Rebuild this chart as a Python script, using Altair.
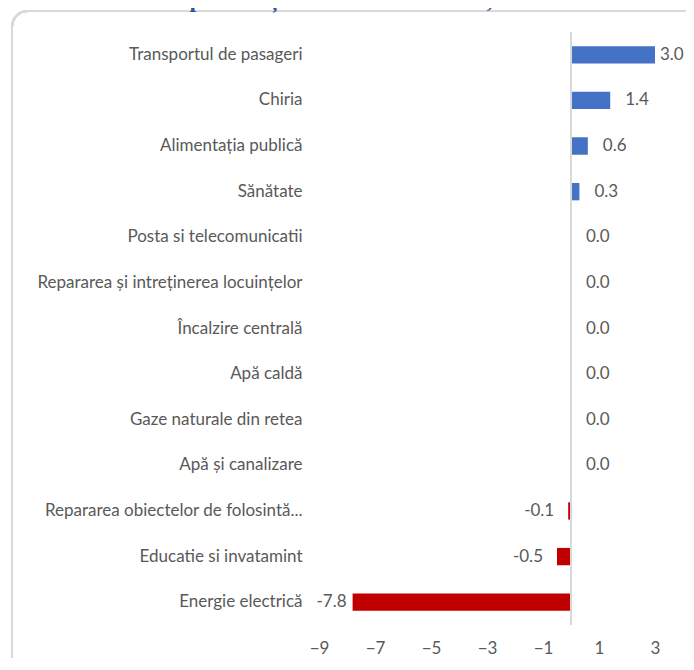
import altair as alt
import pandas as pd

categories = [
    "Transportul de pasageri",
    "Chiria",
    "Alimentația publică",
    "Sănătate",
    "Posta si telecomunicatii",
    "Repararea și intreținerea locuințelor",
    "Încalzire centrală",
    "Apă caldă",
    "Gaze naturale din retea",
    "Apă și canalizare",
    "Repararea obiectelor de folosintă...",
    "Educatie si invatamint",
    "Energie electrică",
]
values = [3.0, 1.4, 0.6, 0.3, 0.0, 0.0, 0.0, 0.0, 0.0, 0.0, -0.1, -0.5, -7.8]
x_ticks = [-9, -7, -5, -3, -1, 1, 3]
title_text = "aprilie față de decembrie 2020, %"

df = pd.DataFrame({"cat": categories, "val": values})
df["sign"] = ["neg" if v < 0 else "pos" for v in values]
df["lbl"] = [f"{v:.1f}" for v in values]

FONT = "Lato"
GRAY = "#595959"
FS = 17
W, H = 336, 593

x_scale = alt.Scale(domain=[-9, 3], nice=False, zero=False)
y_scale = alt.Scale(domain=categories, paddingInner=0.62, paddingOuter=0.31)

y_axis = alt.Axis(
    title=None, ticks=False, domain=False, grid=False, labelPadding=17,
    labelFont=FONT, labelFontSize=FS, labelColor=GRAY, labelLimit=300,
)
x_axis = alt.Axis(
    title=None, values=x_ticks, ticks=False, domain=False, grid=False,
    labelPadding=15, labelFont=FONT, labelFontSize=FS, labelColor=GRAY,
    labelFlush=False,
)
x_enc = alt.X("val:Q", scale=x_scale, axis=x_axis)
y_enc = alt.Y("cat:N", sort=categories, scale=y_scale, axis=y_axis)

base = alt.Chart(df)

frame = base.mark_rect(
    fill=None, stroke="#D9D9D9", strokeWidth=2, cornerRadius=16
).encode(
    x=alt.value(-307), x2=alt.value(385), y=alt.value(-21), y2=alt.value(640)
)

bars = base.mark_bar().encode(
    x=x_enc,
    x2=alt.datum(0),
    y=y_enc,
    color=alt.Color(
        "sign:N",
        scale=alt.Scale(domain=["pos", "neg"], range=["#4472C4", "#C00000"]),
        legend=None,
    ),
)

zero_line = base.mark_rule(color="#D9D9D9", strokeWidth=2).encode(
    x=alt.datum(0, scale=x_scale, axis=x_axis)
)

pos_text = base.transform_filter("datum.val >= 0 && datum.val < 2.5").mark_text(
    align="left", baseline="middle", dx=15, font=FONT, fontSize=FS, color=GRAY
).encode(x=x_enc, y=y_enc, text="lbl:N")

pos_text_big = base.transform_filter("datum.val >= 2.5").mark_text(
    align="left", baseline="middle", dx=5, font=FONT, fontSize=FS, color=GRAY
).encode(x=x_enc, y=y_enc, text="lbl:N")

neg_text = base.transform_filter("datum.val < 0 && datum.val > -5").mark_text(
    align="right", baseline="middle", dx=-14, font=FONT, fontSize=FS, color=GRAY
).encode(x=x_enc, y=y_enc, text="lbl:N")

neg_text_big = base.transform_filter("datum.val <= -5").mark_text(
    align="right", baseline="middle", dx=-6, font=FONT, fontSize=FS, color=GRAY
).encode(x=x_enc, y=y_enc, text="lbl:N")

title = alt.Chart(pd.DataFrame({"t": [title_text]})).mark_text(
    align="center", baseline="alphabetic", font="Liberation Serif",
    fontWeight="bold", fontSize=24, color="#2F5597"
).encode(x=alt.value(31), y=alt.value(-25), text="t:N")

chart = alt.layer(
    frame, bars, zero_line, pos_text, pos_text_big, neg_text, neg_text_big, title
).properties(
    width=W,
    height=H,
    autosize=alt.AutoSizeParams(type="none"),
    padding={"left": 311, "top": 24, "right": 31, "bottom": 33},
).configure(background="white").configure_view(stroke=None)

chart.save("out.html", embed_options={"renderer": "svg", "actions": False})
